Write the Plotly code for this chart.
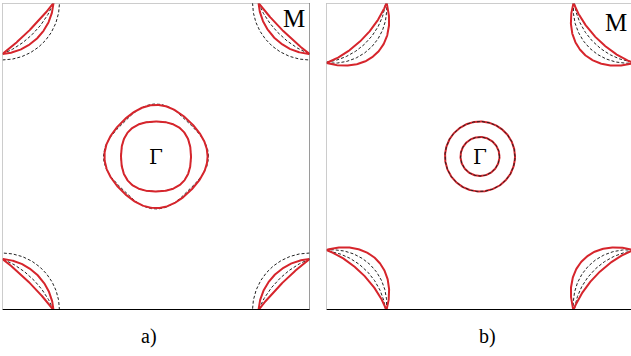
import numpy as np
import plotly.graph_objects as go

# Fermi-surface radii in units of pi/a: [radius along kx/ky axis, radius along zone diagonal]
gamma_a_red = [[0.336, 0.316], [0.228, 0.242]]
gamma_a_dash = [[0.342, 0.306], [0.228, 0.242]]
m_a_red = [[0.332, 0.322], [0.332, 0.250]]
m_a_dash = [[0.371, 0.371], [0.332, 0.282]]

gamma_b_red = [[0.228, 0.228], [0.127, 0.127]]
gamma_b_dash = [[0.228, 0.228], [0.127, 0.127]]
m_b_red = [[0.391, 0.463], [0.391, 0.332]]
m_b_dash = [[0.385, 0.365], [0.391, 0.410]]

corners = [(-1, 1), (1, 1), (-1, -1), (1, -1)]
panel_labels = ["a)", "b)"]

RED = "#d6252c"
W, H = 631, 356


def gamma_loop(r_axis, r_diag):
    t = np.linspace(0, 2 * np.pi, 361)
    r = r_axis + (r_diag - r_axis) * np.sin(2 * t) ** 2
    return r * np.cos(t), r * np.sin(t)


def corner_arc(r_axis, r_diag, cx, cy):
    # quarter of an ellipse centred on the M point, one semi-axis along the
    # zone diagonal (r_diag), the other fixed by where it meets the zone edge
    b = 1.0 / np.sqrt(max(2.0 / r_axis ** 2 - 1.0 / r_diag ** 2, 1e-9))
    d = np.array([-np.sign(cx), -np.sign(cy)]) / np.sqrt(2)
    p = np.array([-d[1], d[0]])
    s = np.linspace(-np.pi / 4, np.pi / 4, 121)
    r = 1.0 / np.sqrt(np.cos(s) ** 2 / r_diag ** 2 + np.sin(s) ** 2 / b ** 2)
    x = cx + r * (np.cos(s) * d[0] + np.sin(s) * p[0])
    y = cy + r * (np.cos(s) * d[1] + np.sin(s) * p[1])
    return x, y


fig = go.Figure()


def add_panel(xa, ya, gamma_red, gamma_dash, m_red, m_dash, dash_on_top):
    def red(x, y):
        fig.add_trace(go.Scatter(x=x, y=y, mode="lines", xaxis=xa, yaxis=ya,
                                 line=dict(color=RED, width=2), hoverinfo="skip"))

    def dashed(x, y):
        fig.add_trace(go.Scatter(x=x, y=y, mode="lines", xaxis=xa, yaxis=ya,
                                 line=dict(color="#222", width=1, dash="3px,2px"),
                                 hoverinfo="skip"))

    layers = [("d", gamma_dash), ("r", gamma_red)]
    if dash_on_top:
        layers = layers[::-1]
    for kind, loops in layers:
        for ra, rd in loops:
            x, y = gamma_loop(ra, rd)
            (dashed if kind == "d" else red)(x, y)
    for cx, cy in corners:
        for ra, rd in m_dash:
            dashed(*corner_arc(ra, rd, cx, cy))
        for ra, rd in m_red:
            red(*corner_arc(ra, rd, cx, cy))


add_panel("x", "y", gamma_a_red, gamma_a_dash, m_a_red, m_a_dash, False)
add_panel("x2", "y2", gamma_b_red, gamma_b_dash, m_b_red, m_b_dash, True)

y0, y1 = 1 - 310 / H, 1 - 3 / H
ax_common = dict(showgrid=False, zeroline=False, showticklabels=False,
                 ticks="", showline=False, fixedrange=True)
fig.update_layout(
    width=W, height=H, margin=dict(l=0, r=0, t=0, b=0),
    paper_bgcolor="white", plot_bgcolor="white", showlegend=False,
    xaxis=dict(domain=[2.5 / W, 309.5 / W], range=[-1, 1], **ax_common),
    yaxis=dict(domain=[y0, y1], range=[-1, 1], anchor="x", **ax_common),
    xaxis2=dict(domain=[326.5 / W, 1], range=[-1, -1 + 2 * 304.5 / 307], anchor="y2", **ax_common),
    yaxis2=dict(domain=[y0, y1], range=[-1, 1], anchor="x2", **ax_common),
)

# zone frames: light top/left edges, dark bottom/right edges
for xr, yr, right in (("x", "y", True), ("x2", "y2", False)):
    fig.add_shape(type="line", xref=xr, yref=yr, x0=-1, y0=1, x1=1.01, y1=1,
                  line=dict(color="#9a9a9a", width=1))
    fig.add_shape(type="line", xref=xr, yref=yr, x0=-1, y0=-1, x1=-1, y1=1,
                  line=dict(color="#9a9a9a", width=1))
    fig.add_shape(type="line", xref=xr, yref=yr, x0=-1, y0=-1, x1=1.015, y1=-1,
                  line=dict(color="black", width=2))
    if right:
        fig.add_shape(type="line", xref=xr, yref=yr, x0=1.003, y0=-1, x1=1.003, y1=1,
                      line=dict(color="black", width=1.5))

serif = "DejaVu Serif, Liberation Serif, serif"
for xr, yr, mx, my in (("x", "y", 0.902, 0.896), ("x2", "y2", 0.883, 0.876)):
    fig.add_annotation(x=0, y=0, xref=xr, yref=yr, text="Γ", showarrow=False,
                       xanchor="center", yanchor="middle",
                       font=dict(family=serif, size=20, color="black"))
    fig.add_annotation(x=mx, y=my, xref=xr, yref=yr, text="M", showarrow=False,
                       xanchor="center", yanchor="middle",
                       font=dict(family="Liberation Serif, serif", size=25, color="black"))

for lbl, px in zip(panel_labels, (149, 487)):
    fig.add_annotation(x=px / W, y=1 - 336 / H, xref="paper", yref="paper",
                       text=lbl, showarrow=False, xanchor="center", yanchor="middle",
                       font=dict(family="Liberation Serif, serif", size=20, color="black"))

fig.write_html("out.html")
